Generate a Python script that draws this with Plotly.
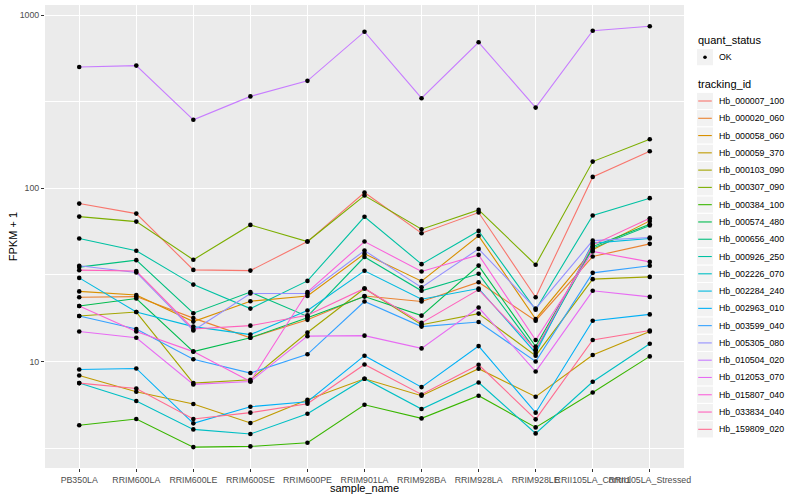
import plotly.graph_objects as go

samples = ["PB350LA", "RRIM600LA", "RRIM600LE", "RRIM600SE", "RRIM600PE", "RRIM901LA",
           "RRIM928BA", "RRIM928LA", "RRIM928LE", "RRII105LA_Control", "RRII105LA_Stressed"]

tracking_ids = ["Hb_000007_100", "Hb_000020_060", "Hb_000058_060", "Hb_000059_370",
                "Hb_000103_090", "Hb_000307_090", "Hb_000384_100", "Hb_000574_480",
                "Hb_000656_400", "Hb_000926_250", "Hb_002226_070", "Hb_002284_240",
                "Hb_002963_010", "Hb_003599_040", "Hb_005305_080", "Hb_010504_020",
                "Hb_012053_070", "Hb_015807_040", "Hb_033834_040", "Hb_159809_020"]

# FPKM + 1 per sample (order of `samples`)
hb_000007_100 = [81.7, 71.5, 33.8, 33.5, 49.3, 94.6, 55.1, 72.5, 23.5, 116.5, 164]
hb_000020_060 = [23.5, 23.7, 17.8, 13.7, 17.4, 23.9, 22.2, 28.7, 17.2, 40.4, 47.8]
hb_000058_060 = [25.4, 24.2, 17.0, 22.3, 23.9, 41.9, 29.1, 53.2, 17.6, 44.2, 64.9]
hb_000059_370 = [8.30, 6.68, 5.68, 4.41, 6.01, 7.95, 6.34, 9.08, 6.26, 10.9, 14.9]
hb_000103_090 = [18.3, 19.3, 7.50, 7.84, 14.7, 26.4, 16.3, 18.9, 10.8, 29.9, 30.8]
hb_000307_090 = [68.7, 64.3, 38.7, 61.5, 49.3, 90.9, 58.1, 75.1, 36.2, 142.8, 192.3]
hb_000384_100 = [4.28, 4.65, 3.20, 3.23, 3.39, 5.62, 4.69, 6.34, 4.16, 6.62, 10.7]
hb_000574_480 = [20.9, 23.1, 11.4, 13.7, 17.9, 23.7, 18.4, 35.8, 12.2, 46.1, 62.1]
hb_000656_400 = [35.1, 38.5, 19.0, 25.2, 18.2, 40.1, 25.6, 32.1, 11.6, 45.2, 61.0]
hb_000926_250 = [51.3, 43.6, 27.8, 20.2, 29.2, 68.5, 36.5, 56.8, 19.9, 69.7, 87.8]
hb_002226_070 = [7.50, 5.91, 4.05, 3.81, 4.99, 7.95, 5.31, 7.56, 3.84, 7.63, 12.65]
hb_002284_240 = [30.4, 19.3, 15.9, 14.3, 19.7, 33.4, 22.9, 26.4, 11.2, 48.3, 51.3]
hb_002963_010 = [8.99, 9.11, 4.39, 5.48, 5.85, 10.8, 7.11, 12.27, 5.06, 17.2, 18.7]
hb_003599_040 = [18.3, 15.4, 10.3, 8.57, 11.0, 22.2, 15.9, 16.9, 10.0, 32.5, 35.7]
hb_005305_080 = [35.7, 32.7, 15.1, 24.7, 24.7, 43.7, 26.8, 44.7, 20.2, 49.9, 52.0]
hb_010504_020 = [503, 512, 249, 340, 418, 804, 332, 698, 293, 815, 864]
hb_012053_070 = [14.9, 13.7, 7.37, 7.66, 14.0, 14.1, 11.9, 20.5, 8.75, 25.6, 23.6]
hb_015807_040 = [20.9, 14.9, 11.4, 7.66, 25.2, 49.3, 33.1, 41.3, 13.3, 43.2, 37.6]
hb_033834_040 = [33.7, 33.3, 15.4, 16.1, 18.5, 26.4, 16.7, 26.0, 11.7, 47.2, 67.1]
hb_159809_020 = [7.50, 6.98, 4.65, 5.06, 5.70, 9.61, 6.45, 9.57, 4.63, 13.3, 15.1]

series = [hb_000007_100, hb_000020_060, hb_000058_060, hb_000059_370, hb_000103_090,
          hb_000307_090, hb_000384_100, hb_000574_480, hb_000656_400, hb_000926_250,
          hb_002226_070, hb_002284_240, hb_002963_010, hb_003599_040, hb_005305_080,
          hb_010504_020, hb_012053_070, hb_015807_040, hb_033834_040, hb_159809_020]

quant_status = ["OK"]

palette = ["#F8766D", "#EA8331", "#D89000", "#C09B00", "#A3A500", "#7CAE00", "#39B600",
           "#00BB4E", "#00BF7D", "#00C1A3", "#00BFC4", "#00BAE0", "#00B0F6", "#35A2FF",
           "#9590FF", "#C77CFF", "#E76BF3", "#FA62DB", "#FF62BC", "#FF6C91"]

FONT = "Liberation Sans, Arial, Helvetica, sans-serif"
W, H = 800, 500
ML, MR, MT, MB = 45, 116, 5, 32
PW, PH = W - ML - MR, H - MT - MB

fig = go.Figure()
for tid, vals, col in zip(tracking_ids, series, palette):
    fig.add_trace(go.Scatter(x=samples, y=vals, mode="lines", name=tid,
                             line=dict(color=col, width=1.1), showlegend=False,
                             hoverinfo="skip"))
all_x, all_y = [], []
for vals in series:
    all_x += samples
    all_y += vals
fig.add_trace(go.Scatter(x=all_x, y=all_y, mode="markers", name=quant_status[0],
                         marker=dict(color="black", size=4.6), showlegend=False))


def px_x(p):
    return (p - ML) / PW


def px_y(p):
    return (H - MB - p) / PH


shapes, annotations = [], []
# legend: quant_status
annotations.append(dict(x=px_x(696), y=px_y(39.5), xref="paper", yref="paper", text="quant_status",
                        showarrow=False, xanchor="left", yanchor="middle",
                        font=dict(family=FONT, size=11, color="black")))
cy = 57.2
shapes.append(dict(type="rect", xref="paper", yref="paper", x0=px_x(696.5), x1=px_x(713.5),
                   y0=px_y(cy + 8.6), y1=px_y(cy - 8.6), fillcolor="#F2F2F2",
                   line=dict(color="white", width=1), layer="above"))
shapes.append(dict(type="circle", xref="paper", yref="paper", x0=px_x(703.2), x1=px_x(706.8),
                   y0=px_y(cy + 1.8), y1=px_y(cy - 1.8), fillcolor="black",
                   line=dict(color="black", width=0), layer="above"))
annotations.append(dict(x=px_x(716.5), y=px_y(cy), xref="paper", yref="paper", text=quant_status[0],
                        showarrow=False, xanchor="left", yanchor="middle",
                        font=dict(family=FONT, size=8.8, color="black")))
# legend: tracking_id
annotations.append(dict(x=px_x(696), y=px_y(84.3), xref="paper", yref="paper", text="tracking_id",
                        showarrow=False, xanchor="left", yanchor="middle",
                        font=dict(family=FONT, size=11, color="black")))
for i, (tid, col) in enumerate(zip(tracking_ids, palette)):
    cy = 101.0 + i * 17.28
    shapes.append(dict(type="rect", xref="paper", yref="paper", x0=px_x(696.5), x1=px_x(713.5),
                       y0=px_y(cy + 8.64), y1=px_y(cy - 8.64), fillcolor="#F2F2F2",
                       line=dict(color="white", width=1), layer="above"))
    shapes.append(dict(type="line", xref="paper", yref="paper", x0=px_x(698.2), x1=px_x(711.8),
                       y0=px_y(cy), y1=px_y(cy), line=dict(color=col, width=1.1), layer="above"))
    annotations.append(dict(x=px_x(716.5), y=px_y(cy), xref="paper", yref="paper", text=tid,
                            showarrow=False, xanchor="left", yanchor="middle",
                            font=dict(family=FONT, size=8.8, color="black")))
# axis titles
annotations.append(dict(x=px_x(364.5), y=px_y(487.6), xref="paper", yref="paper", text="sample_name",
                        showarrow=False, xanchor="center", yanchor="middle",
                        font=dict(family=FONT, size=11, color="black")))
annotations.append(dict(x=px_x(12.5), y=px_y(236.7), xref="paper", yref="paper", text="FPKM + 1",
                        showarrow=False, xanchor="center", yanchor="middle", textangle=-90,
                        font=dict(family=FONT, size=11, color="black")))

fig.update_layout(
    width=W, height=H,
    margin=dict(l=ML, r=MR, t=MT, b=MB, autoexpand=False),
    paper_bgcolor="white", plot_bgcolor="#EBEBEB",
    font=dict(family=FONT, size=8.8, color="#4D4D4D"),
    showlegend=False,
    shapes=shapes, annotations=annotations,
    xaxis=dict(type="category", categoryorder="array", categoryarray=samples,
               range=[-0.6, len(samples) - 0.4], showgrid=True, gridcolor="white", gridwidth=1.4,
               zeroline=False, showline=False, ticks="outside", ticklen=3, tickwidth=1,
               tickcolor="#333333", tickangle=0,
               tickfont=dict(family=FONT, size=8.8, color="#4D4D4D"), automargin=False),
    yaxis=dict(type="log", range=[0.3845, 3.0595], tickmode="array", tickvals=[10, 100, 1000],
               ticktext=["10", "100", "1000"], showgrid=True, gridcolor="white", gridwidth=1.4,
               minor=dict(tickmode="array", tickvals=[10 ** 0.5, 10 ** 1.5, 10 ** 2.5],
                          showgrid=True, gridcolor="white", gridwidth=0.7, ticks=""),
               zeroline=False, showline=False, ticks="outside", ticklen=3, tickwidth=1,
               tickcolor="#333333",
               tickfont=dict(family=FONT, size=8.8, color="#4D4D4D"), automargin=False),
)

fig.write_html("out.html", config={"displayModeBar": False},
               post_script="document.body.style.margin='0';document.body.style.padding='0';")
